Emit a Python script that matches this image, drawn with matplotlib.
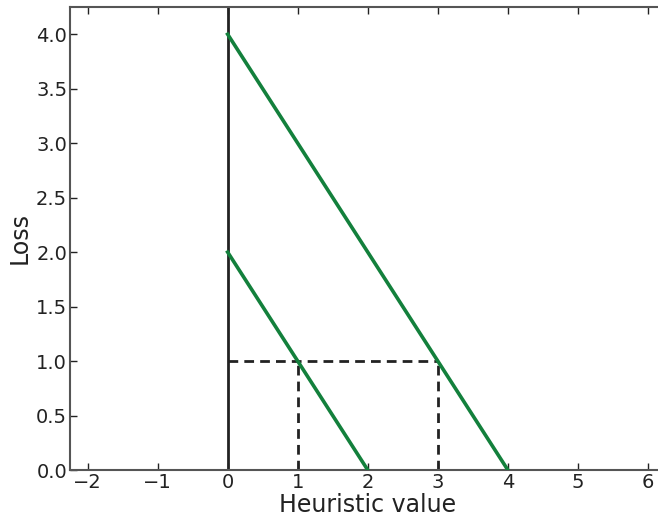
import matplotlib
matplotlib.use('Agg')
from matplotlib import pyplot as plt

# loss lines (heuristic value -> loss)
big_x = [0, 4]
big_y = [4, 0]
small_x = [0, 2]
small_y = [2, 0]

# dashed guides at loss = 1
guide_h_x = [0, 3]
guide_h_y = [1, 1]
guide_v1_x = [1, 1]
guide_v2_x = [3, 3]
guide_v_y = [0, 1]

xticks = [-2, -1, 0, 1, 2, 3, 4, 5, 6]
yticks = [0.0, 0.5, 1.0, 1.5, 2.0, 2.5, 3.0, 3.5, 4.0]

fig = plt.figure(figsize=(6.58, 5.21), dpi=100)
ax = fig.add_axes([70 / 658, 51 / 521, 595.5 / 658, 463 / 521])

green = '#13803c'
ax.axvline(0, color='#222222', lw=2.0, zorder=2)
ax.plot(big_x, big_y, color=green, lw=2.6, zorder=3)
ax.plot(small_x, small_y, color=green, lw=2.6, zorder=3)
for xs, ys in [(guide_h_x, guide_h_y), (guide_v1_x, guide_v_y), (guide_v2_x, guide_v_y)]:
    ax.plot(xs, ys, color='#222222', lw=2.0, linestyle=(0, (3.5, 2.2)), zorder=2)

ax.set_xlim(-2.25, 6.25)
ax.set_ylim(0, 4.25)
ax.set_xticks(xticks)
ax.set_yticks(yticks)
ax.set_yticklabels(['%.1f' % v for v in yticks])
ax.tick_params(direction='in', top=True, right=True, labelsize=14, colors='#222222',
               length=5, width=1, pad=2)
for s in ax.spines.values():
    s.set_color('#555555')
    s.set_linewidth(1.5)

ax.set_xlabel('Heuristic value', fontsize=17, color='#222222', labelpad=1)
ax.set_ylabel('Loss', fontsize=17, color='#222222', labelpad=3)

fig.savefig('out.png', dpi=100)
